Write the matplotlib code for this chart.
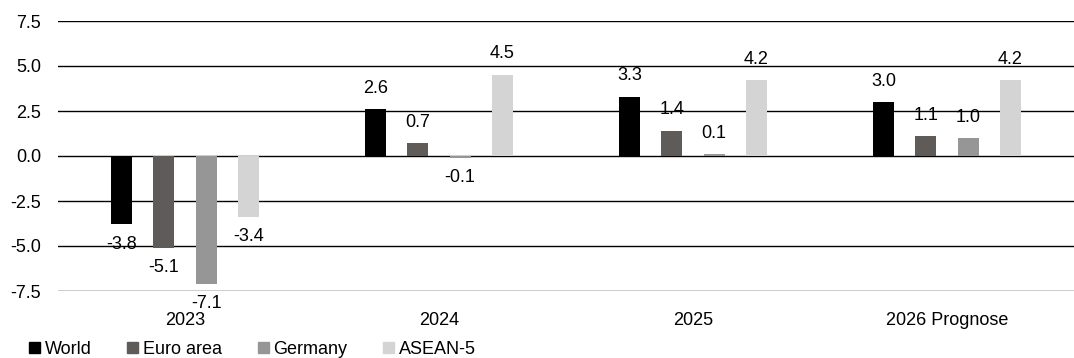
import numpy as np
import matplotlib.pyplot as plt
from matplotlib.patches import Patch

plt.rcParams['font.family'] = ['Liberation Sans', 'DejaVu Sans']
plt.rcParams['font.size'] = 13

years = ['2023', '2024', '2025', '2026 Prognose']
series = ['World', 'Euro area', 'Germany', 'ASEAN-5']
world = [-3.8, 2.6, 3.3, 3.0]
euro_area = [-5.1, 0.7, 1.4, 1.1]
germany = [-7.1, -0.1, 0.1, 1.0]
asean5 = [-3.4, 4.5, 4.2, 4.2]
colors = ['#000000', '#5f5b58', '#969696', '#d4d4d4']

values = [world, euro_area, germany, asean5]
offsets = [-0.25, -0.083, 0.083, 0.25]
width = 0.083

fig = plt.figure(figsize=(10.74, 3.58), dpi=100)
ax = fig.add_axes([58 / 1074, 1 - 291 / 358, 1 - 58 / 1074, 270 / 358])

x = np.arange(len(years))
for vals, off, col in zip(values, offsets, colors):
    bars = ax.bar(x + off, vals, width, color=col, zorder=2)
    for b, v in zip(bars, vals):
        if v >= 0:
            ax.annotate(f'{v:.1f}', (b.get_x() + b.get_width() / 2, v),
                        xytext=(0, 9), textcoords='offset points',
                        ha='center', va='bottom', zorder=1)
        else:
            ax.annotate(f'{v:.1f}', (b.get_x() + b.get_width() / 2, v),
                        xytext=(0, -8), textcoords='offset points',
                        ha='center', va='top', zorder=1)

ax.set_xlim(-0.5, 3.5)
ax.set_ylim(-7.5, 7.5)
ax.set_yticks(np.arange(-7.5, 7.6, 2.5))
ax.set_yticklabels([f'{t:.1f}' for t in np.arange(-7.5, 7.6, 2.5)])
ax.yaxis.grid(True, color='black', linewidth=1.0)
for line in ax.get_ygridlines():
    line.set_zorder(3)
ax.set_xticks(x)
ax.set_xticklabels(years)
ax.tick_params(axis='both', length=0)
ax.tick_params(axis='x', pad=15)
ax.tick_params(axis='y', pad=12)
for s in ax.spines.values():
    s.set_visible(False)

handles = [Patch(color=c, label=s) for c, s in zip(colors, series)]
fig.legend(handles=handles, loc='lower left', bbox_to_anchor=(0.012, -0.045),
           ncol=4, frameon=False, handlelength=0.6, handleheight=0.6,
           handletextpad=0.25, columnspacing=2.0)

fig.savefig('out.png', dpi=100)
